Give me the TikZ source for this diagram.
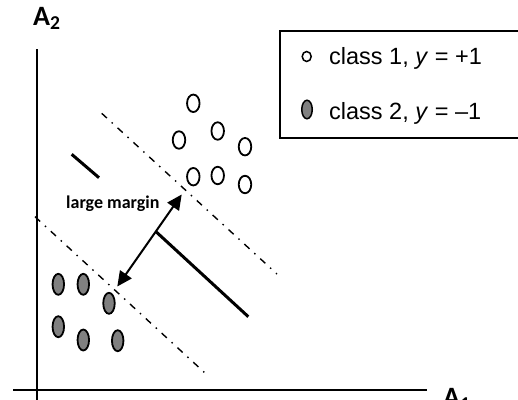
\documentclass[tikz,border=0pt]{standalone}
\usepackage{fontspec}
\setmainfont{Liberation Sans}
\newfontfamily\calib{Carlito}
\usetikzlibrary{arrows.meta,shapes.geometric}
\begin{document}
\begin{tikzpicture}[x=1pt,y=-1pt,
  axis/.style={line width=2pt},
  margline/.style={line width=1.4pt, dash pattern=on 7pt off 6.5pt on 1.5pt off 6.5pt},
  hyper/.style={line width=3pt},
  cone/.style={ellipse, draw, line width=1.8pt, minimum width=12.5pt, minimum height=17.5pt, inner sep=0pt},
  ctwo/.style={ellipse, draw, line width=1.8pt, fill=gray, minimum width=11.5pt, minimum height=21pt, inner sep=0pt},
  legtext/.style={font=\fontsize{23.5}{23.5}\selectfont, anchor=base west, inner sep=0pt},
  axlabel/.style={font=\calib\bfseries\fontsize{28}{28}\selectfont, anchor=base west, inner sep=0pt},
  twoarrow/.style={line width=2pt, {Triangle[length=15pt,width=14pt]}-{Triangle[length=15pt,width=14pt]}},
]
\useasboundingbox (0,0) rectangle (518,399);
% axes
\coordinate (ytop) at (36.7,49);
\coordinate (ybot) at (36.7,402);
\coordinate (xl) at (13,390);
\coordinate (xr) at (427,390);
\draw[axis] (ybot) -- (ytop);
\draw[axis] (xl) -- (xr);
\node[axlabel] (a2) at (33,25) {A\textsubscript{2}};
\node[axlabel] (a1) at (443,406) {A\textsubscript{1}};
% legend
\node[draw, line width=1.5pt, anchor=north west, minimum width=245pt, minimum height=107pt, inner sep=0pt] (legend) at (279,30) {};
\node[ellipse, draw, line width=1.5pt, minimum width=9pt, minimum height=10pt, inner sep=0pt] (l1) at (306.7,56.5) {};
\node[ctwo, line width=1.5pt, minimum width=10.5pt, minimum height=18.5pt] (l2) at (307,109.5) {};
\node[legtext] (t1) at (329,64) {class 1, \textit{y} = +1};
\node[legtext] (t2) at (329,119.5) {class 2, \textit{y} = –1};
% margin lines
\coordinate (u1) at (101.7,113.3);
\coordinate (u2) at (277,274);
\coordinate (d1) at (35,216.7);
\coordinate (d2) at (208.3,376);
\draw[margline] (u1) -- (u2);
\draw[margline] (d1) -- (d2);
% hyperplane
\coordinate (h1) at (71.7,154.3);
\coordinate (h2) at (99,177.7);
\coordinate (h3) at (156,231.7);
\coordinate (h4) at (248.3,316.7);
\draw[hyper] (h1) -- (h2);
\draw[hyper] (h3) -- (h4);
% class 1
\node[cone] (p1) at (193.3,103.3) {};
\node[cone] (p2) at (179,140) {};
\node[cone] (p3) at (217.7,131) {};
\node[cone] (p4) at (245,146.7) {};
\node[cone] (p5) at (193.3,176.7) {};
\node[cone] (p6) at (217.7,175.5) {};
\node[cone] (p7) at (245,184.5) {};
% class 2
\node[ctwo] (n1) at (58.3,284.3) {};
\node[ctwo] (n2) at (83.3,284.3) {};
\node[ctwo] (n3) at (109,303.3) {};
\node[ctwo] (n4) at (58.3,326.7) {};
\node[ctwo] (n5) at (83.3,340) {};
\node[ctwo] (n6) at (117.7,340.7) {};
% margin arrow
\coordinate (m1) at (117.3,286.5);
\coordinate (m2) at (181.7,194.5);
\draw[twoarrow] (m1) -- (m2);
\node[font=\calib\bfseries\fontsize{18}{18}\selectfont, anchor=base west, inner sep=0pt] (lm) at (66,208.5) {large margin};
\end{tikzpicture}
\end{document}
